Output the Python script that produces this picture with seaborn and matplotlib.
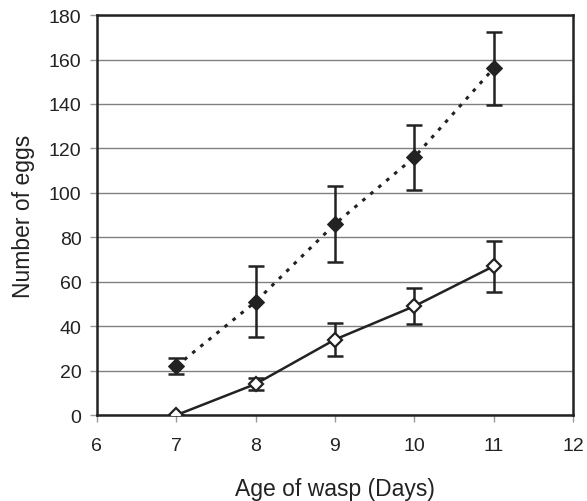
import numpy as np
import pandas as pd
import matplotlib
matplotlib.use("Agg")
import matplotlib.pyplot as plt
import seaborn as sns

sns.set_style("white")
plt.rcParams['font.family'] = ['Liberation Sans', 'DejaVu Sans']

# data
days = [7, 8, 9, 10, 11]
eggs_filled = [22, 51, 86, 116, 156]
err_filled = [3.5, 16, 17, 14.5, 16.5]
eggs_open = [0, 14, 34, 49, 67]
err_open = [0, 2.5, 7.5, 8, 11.5]

df_filled = pd.DataFrame({"day": days, "eggs": eggs_filled, "err": err_filled})
df_open = pd.DataFrame({"day": days, "eggs": eggs_open, "err": err_open})

fig = plt.figure(figsize=(5.87, 5.02), dpi=100)
ax = fig.add_axes([0.165, 0.171, 0.811, 0.797])

# grid
ax.set_axisbelow(True)
ax.yaxis.grid(True, color="#808080", linewidth=1.0)

# error bars
ax.errorbar(df_filled["day"], df_filled["eggs"], yerr=df_filled["err"], fmt="none",
            ecolor="#222222", elinewidth=1.8, capsize=5.5, capthick=1.8, zorder=3)
ax.errorbar(df_open["day"], df_open["eggs"], yerr=df_open["err"], fmt="none",
            ecolor="#222222", elinewidth=1.8, capsize=5.5, capthick=1.8, zorder=3)

# lines + markers
sns.lineplot(data=df_filled, x="day", y="eggs", ax=ax, color="#222222",
             linestyle=(0, (1.2, 2.2)), linewidth=2.2, marker="D", markersize=8,
             markerfacecolor="#222222", markeredgecolor="#222222", zorder=4)
sns.lineplot(data=df_open, x="day", y="eggs", ax=ax, color="#222222",
             linewidth=1.8, marker="D", markersize=7.5, markerfacecolor="white",
             markeredgecolor="#222222", markeredgewidth=1.6, zorder=4)

ax.set_xlim(6, 12)
ax.set_ylim(0, 180)
ax.set_xticks(range(6, 13))
ax.set_yticks(range(0, 181, 20))

for s in ax.spines.values():
    s.set_color("#222222")
    s.set_linewidth(1.8)

ax.tick_params(axis="both", direction="out", length=5, width=1, color="#999999",
               labelsize=14, labelcolor="#222222", bottom=True, left=True)
ax.tick_params(axis="y", pad=6)
ax.tick_params(axis="x", pad=11)

ax.set_xlabel("Age of wasp (Days)", fontsize=16.5, color="#222222", labelpad=16)
ax.set_ylabel("Number of eggs", fontsize=16.5, color="#222222", labelpad=10)

fig.savefig("out.png", dpi=100)
